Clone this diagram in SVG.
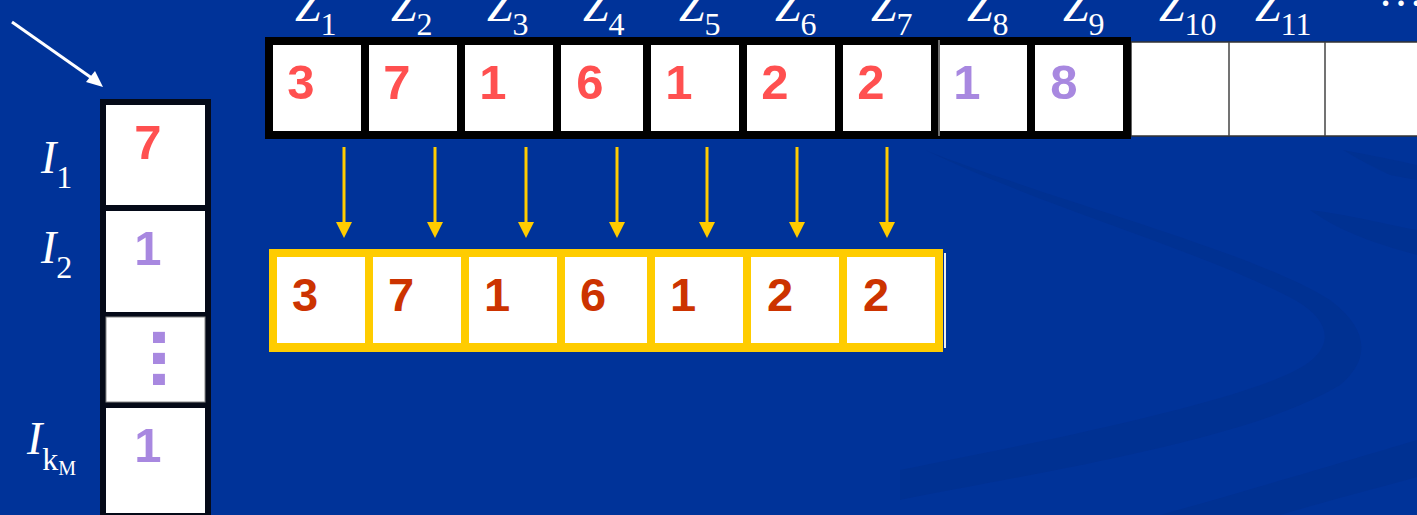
<svg xmlns="http://www.w3.org/2000/svg" width="1417" height="515" viewBox="0 0 1417 515">
<defs>
<style>
.z{font-family:"Liberation Serif",serif;font-style:italic;font-size:46px;fill:#fff}
.s{font-style:normal;font-size:32px}
.n{font-family:"Liberation Sans",Arial,sans-serif;font-weight:bold;font-size:49px;text-anchor:middle}
.r{fill:#FF5050}
.p{fill:#A888E0}
.d{fill:#CC3300;font-size:47px}
.y{stroke:#FFCC00;stroke-width:3;fill:none}
</style>
</defs>
<rect width="1417" height="515" fill="#003399"/>
<g id="bg-swoosh" fill="#003192">
<path d="M925,150 C1050,200 1250,250 1330,300 C1370,330 1370,360 1340,385 C1250,440 1050,470 900,500 L900,470 C1050,440 1250,400 1305,365 C1335,345 1330,320 1295,300 C1200,250 1050,210 925,150 Z"/>
<path d="M1160,515 C1250,490 1350,460 1417,440 L1417,477 C1370,490 1320,503 1280,515 Z"/>
<path d="M1343,150 C1360,160 1375,168 1390,175 L1417,180 L1417,165 C1395,160 1370,155 1343,150 Z"/>
<path d="M1310,210 C1350,215 1390,225 1417,230 L1417,255 C1380,245 1340,232 1310,210 Z"/>
</g>
<g id="labels-z" class="z">
<text x="295" y="21">Z<tspan class="s" dy="14">1</tspan></text>
<text x="391" y="21">Z<tspan class="s" dy="14">2</tspan></text>
<text x="487" y="21">Z<tspan class="s" dy="14">3</tspan></text>
<text x="583" y="21">Z<tspan class="s" dy="14">4</tspan></text>
<text x="679" y="21">Z<tspan class="s" dy="14">5</tspan></text>
<text x="775" y="21">Z<tspan class="s" dy="14">6</tspan></text>
<text x="871" y="21">Z<tspan class="s" dy="14">7</tspan></text>
<text x="967" y="21">Z<tspan class="s" dy="14">8</tspan></text>
<text x="1063" y="21">Z<tspan class="s" dy="14">9</tspan></text>
<text x="1159" y="21">Z<tspan class="s" dy="14">10</tspan></text>
<text x="1255" y="21">Z<tspan class="s" dy="14">11</tspan></text>
<text x="1378" y="6" style="font-style:normal">…</text>
</g>
<g id="top-row">
<rect x="1131" y="42" width="290" height="94" fill="#fff" stroke="#333" stroke-width="1.5"/>
<line x1="1229" y1="42" x2="1229" y2="136" stroke="#444" stroke-width="1.5"/>
<line x1="1325" y1="42" x2="1325" y2="136" stroke="#444" stroke-width="1.5"/>
<rect x="265" y="37" width="866" height="102" fill="#000"/>
<g fill="#fff">
<rect x="273" y="45" width="88" height="86"/>
<rect x="369" y="45" width="88" height="86"/>
<rect x="465" y="45" width="88" height="86"/>
<rect x="561" y="45" width="82" height="86"/>
<rect x="651" y="45" width="88" height="86"/>
<rect x="747" y="45" width="88" height="86"/>
<rect x="843" y="45" width="88" height="86"/>
<rect x="940" y="45" width="87" height="86"/>
<rect x="1035" y="45" width="88" height="86"/>
</g>
<line x1="939" y1="40" x2="939" y2="136" stroke="#ddd" stroke-width="1"/>
<g class="n">
<text class="r" x="301" y="99">3</text>
<text class="r" x="397" y="99">7</text>
<text class="r" x="493" y="99">1</text>
<text class="r" x="590" y="99">6</text>
<text class="r" x="679" y="99">1</text>
<text class="r" x="775" y="99">2</text>
<text class="r" x="871" y="99">2</text>
<text class="p" x="967" y="99">1</text>
<text class="p" x="1064" y="99">8</text>
</g>
</g>
<g id="connectors">
<line x1="12" y1="22" x2="96" y2="81" stroke="#fff" stroke-width="3"/>
<path d="M103,87 L86,82 L95,71 Z" fill="#fff"/>
<g class="y">
<line x1="344" y1="147" x2="344" y2="224"/>
<line x1="435" y1="147" x2="435" y2="224"/>
<line x1="526" y1="147" x2="526" y2="224"/>
<line x1="617" y1="147" x2="617" y2="224"/>
<line x1="707" y1="147" x2="707" y2="224"/>
<line x1="797" y1="147" x2="797" y2="224"/>
<line x1="887" y1="147" x2="887" y2="224"/>
</g>
<g fill="#FFCC00">
<path d="M336,222 L352,222 L344,238 Z"/>
<path d="M427,222 L443,222 L435,238 Z"/>
<path d="M518,222 L534,222 L526,238 Z"/>
<path d="M609,222 L625,222 L617,238 Z"/>
<path d="M699,222 L715,222 L707,238 Z"/>
<path d="M789,222 L805,222 L797,238 Z"/>
<path d="M879,222 L895,222 L887,238 Z"/>
</g>
</g>
<g id="bottom-row">
<rect x="944" y="253" width="2" height="95" fill="#eee"/>
<rect x="269" y="249" width="674" height="103" fill="#FFCC00"/>
<g fill="#fff">
<rect x="277" y="257" width="88" height="86"/>
<rect x="373" y="257" width="88" height="86"/>
<rect x="469" y="257" width="88" height="86"/>
<rect x="565" y="257" width="82" height="86"/>
<rect x="655" y="257" width="88" height="86"/>
<rect x="751" y="257" width="88" height="86"/>
<rect x="847" y="257" width="88" height="86"/>
</g>
<g class="n d">
<text x="305" y="311">3</text>
<text x="401" y="311">7</text>
<text x="497" y="311">1</text>
<text x="593" y="311">6</text>
<text x="683" y="311">1</text>
<text x="780" y="311">2</text>
<text x="876" y="311">2</text>
</g>
</g>
<g id="column">
<rect x="100" y="99" width="111" height="420" fill="#050A18"/>
<rect x="106" y="105" width="99" height="100" fill="#fff"/>
<rect x="106" y="211" width="99" height="101" fill="#fff"/>
<rect x="106" y="317" width="99" height="85" fill="#fff" stroke="#888" stroke-width="1"/>
<rect x="106" y="408" width="99" height="105" fill="#fff"/>
<g class="n">
<text class="r" x="148" y="159">7</text>
<text class="p" x="148" y="265">1</text>
<text class="p" x="148" y="462">1</text>
</g>
<text class="p" transform="translate(153,326.5) rotate(90)" style="font-family:'Liberation Sans',Arial,sans-serif;font-weight:bold;font-size:79px;letter-spacing:-1px">...</text>
</g>
<g id="labels-i" class="z">
<text x="41" y="173">I<tspan class="s" dy="15">1</tspan></text>
<text x="41" y="263">I<tspan class="s" dy="15">2</tspan></text>
<text x="27" y="454">I<tspan class="s" dy="16">k</tspan><tspan style="font-style:normal;font-size:20px" dy="5">M</tspan></text>
</g>
</svg>
